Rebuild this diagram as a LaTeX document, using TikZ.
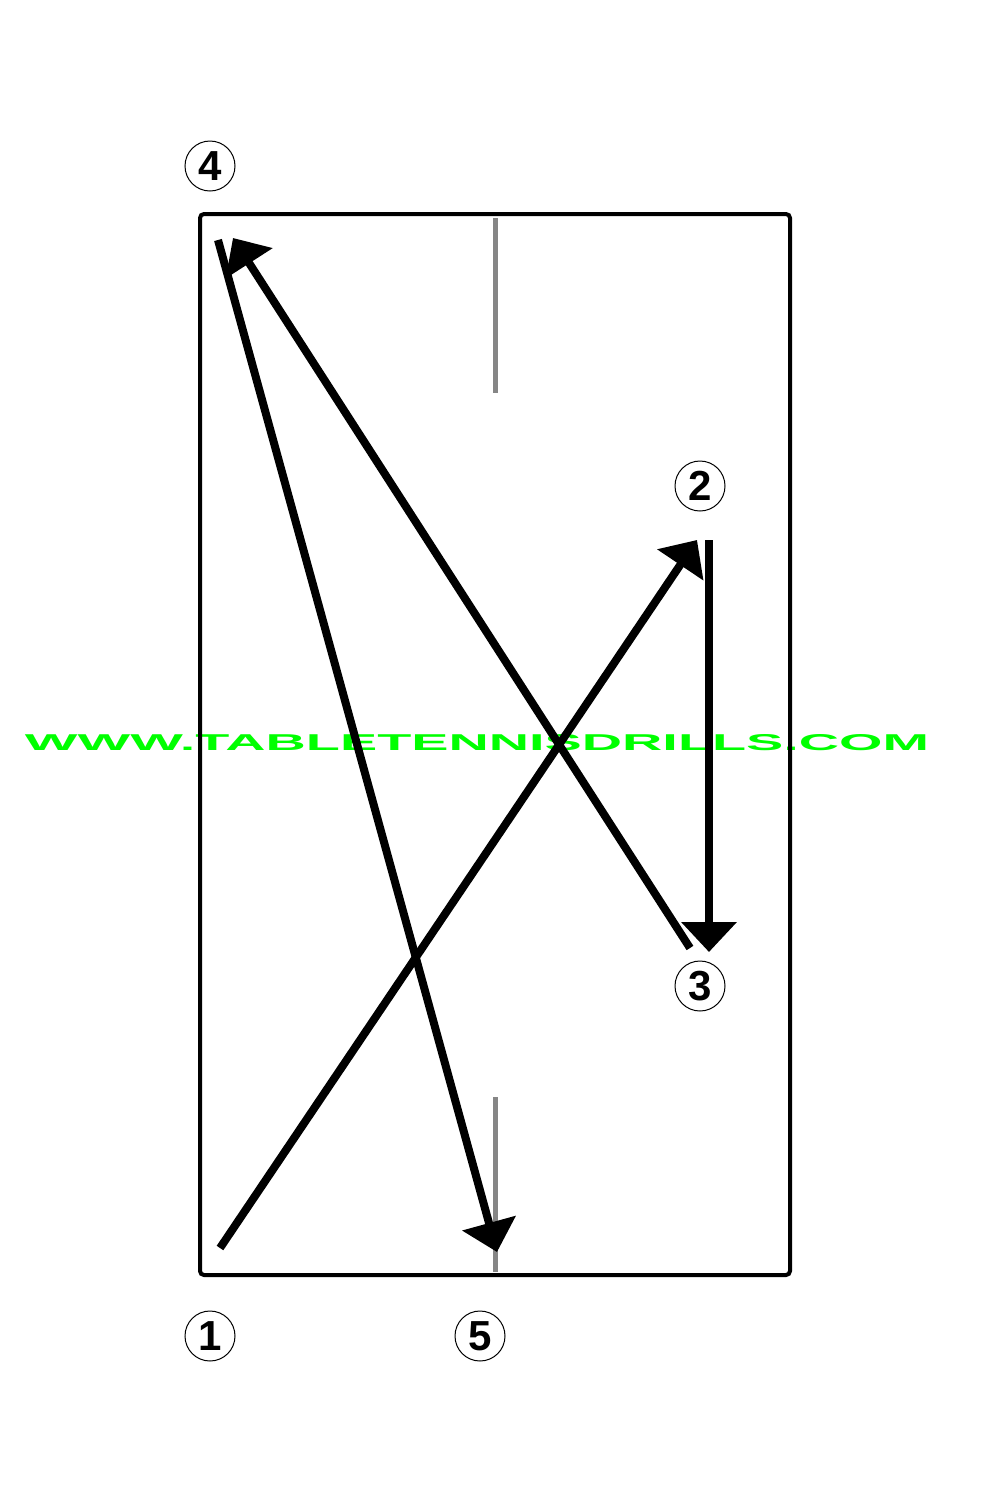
\documentclass[tikz,border=0pt]{standalone}
\usepackage{fontspec}
\setmainfont{Liberation Sans}
\usetikzlibrary{arrows.meta}
\begin{document}
\begin{tikzpicture}[x=0.5pt,y=-0.5pt,
  numcirc/.style={draw,circle,line width=0.5pt,minimum size=25pt,inner sep=0pt,font=\fontsize{21}{21}\selectfont\bfseries},
  shot/.style={line width=4pt,-{Triangle[length=15pt,width=27pt]}},
  netline/.style={draw=gray!95,line width=2.5pt}]
\useasboundingbox (0,0) rectangle (1000,1500);
% watermark
\node (wm) at (477,743) {\resizebox{452pt}{8pt}{\color[HTML]{00FF00}\bfseries WWW.TABLETENNISDRILLS.COM}};
% table
\draw[line width=2pt,rounded corners=2pt] (200,214) rectangle (790,1275);
\coordinate (nt1) at (495,218); \coordinate (nt2) at (495,393);
\coordinate (nb1) at (495,1097); \coordinate (nb2) at (495,1272);
\draw[netline] (nt1) -- (nt2);
\draw[netline] (nb1) -- (nb2);
% numbers
\node[numcirc] (n4) at (210,166) {4};
\node[numcirc] (n2) at (700,486) {2};
\node[numcirc] (n3) at (700,986) {3};
\node[numcirc] (n1) at (210,1336) {1};
\node[numcirc] (n5) at (480,1336) {5};
% shot points
\coordinate (a1s) at (220,1248); \coordinate (a1e) at (697,540);
\coordinate (a2s) at (709,540); \coordinate (a2e) at (709,952);
\coordinate (a3s) at (690,948); \coordinate (a3e) at (233,238);
\coordinate (a4s) at (218,240); \coordinate (a4e) at (497,1252);
\draw[shot] (a1s) -- (a1e);
\draw[shot] (a2s) -- (a2e);
\draw[shot] (a3s) -- (a3e);
\draw[shot] (a4s) -- (a4e);
\end{tikzpicture}
\end{document}
